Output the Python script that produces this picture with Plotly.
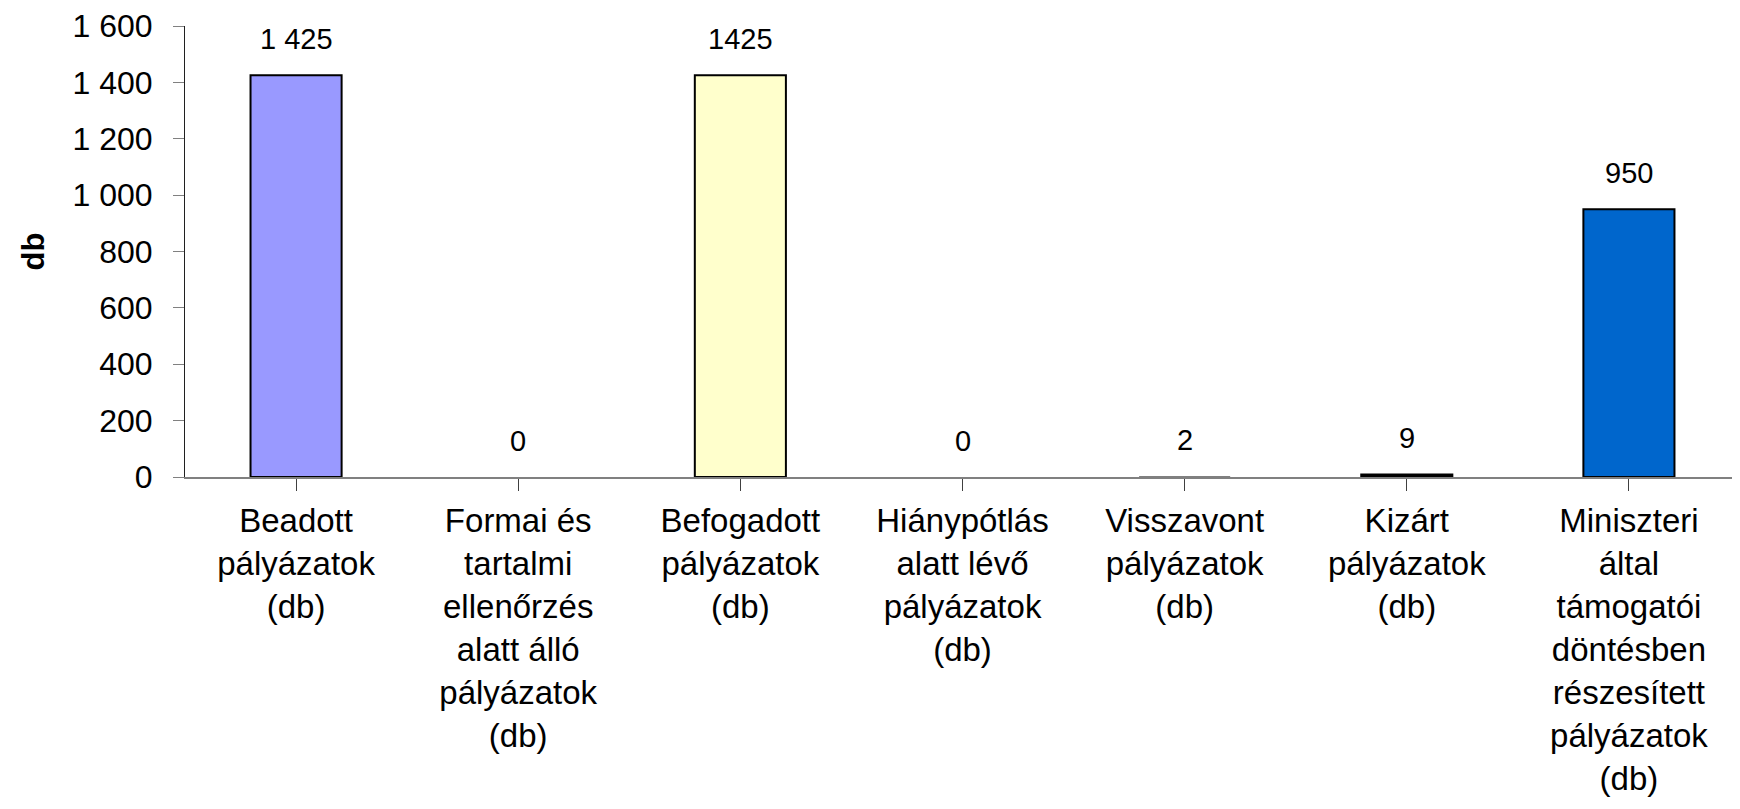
import plotly.graph_objects as go

categories = [
    "Beadott<br>pályázatok<br>(db)",
    "Formai és<br>tartalmi<br>ellenőrzés<br>alatt álló<br>pályázatok<br>(db)",
    "Befogadott<br>pályázatok<br>(db)",
    "Hiánypótlás<br>alatt lévő<br>pályázatok<br>(db)",
    "Visszavont<br>pályázatok<br>(db)",
    "Kizárt<br>pályázatok<br>(db)",
    "Miniszteri<br>által<br>támogatói<br>döntésben<br>részesített<br>pályázatok<br>(db)",
]
values = [1425, 0, 1425, 0, 2, 9, 950]
value_labels = ["1 425", "0", "1425", "0", "2", "9", "950"]
bar_colors = ["#9999FF", "#993366", "#FFFFCC", "#CCFFFF", "#808080", "#000000", "#0066CC"]
bar_outline_widths = [2, 0, 2, 0, 0, 2, 2]
y_tickvals = [0, 200, 400, 600, 800, 1000, 1200, 1400, 1600]

FONT = "Liberation Sans, Arial, sans-serif"
keys = list(range(len(categories)))

fig = go.Figure()
fig.add_trace(go.Bar(
    x=keys, y=values,
    marker=dict(color=bar_colors, line=dict(color="black", width=bar_outline_widths)),
    width=0.41,
    hoverinfo="skip",
))

for k, v, t in zip(keys, values, value_labels):
    fig.add_annotation(x=k, y=v, text=t, showarrow=False, yanchor="bottom",
                       yshift=18, font=dict(family=FONT, size=29, color="black"))

fig.update_layout(
    width=1740, height=809,
    margin=dict(l=177, r=8, t=18, b=340, autoexpand=False),
    plot_bgcolor="white", paper_bgcolor="white",
    showlegend=False,
    separators=". ",
    font=dict(family=FONT, color="black"),
)
fig.update_xaxes(
    tickmode="array", tickvals=keys, ticktext=categories,
    range=[-0.5, 6.5],
    automargin=False,
    showline=True, linecolor="#808080", linewidth=1.5,
    ticks="outside", ticklen=12, tickcolor="#404040", tickwidth=1,
    tickson="boundaries",
    showgrid=False, zeroline=False,
    tickfont=dict(family=FONT, size=33, color="black"),
    ticklabelstandoff=2,
)
fig.update_yaxes(
    range=[0, 1600], tickvals=y_tickvals, tickformat=",d",
    automargin=False,
    showline=True, linecolor="#202020", linewidth=1,
    ticks="outside", ticklen=11, tickcolor="#808080",
    showgrid=False, zeroline=False,
    tickfont=dict(family=FONT, size=32, color="black"),
    ticklabelstandoff=14,
    title=dict(text="<b>db</b>", font=dict(family=FONT, size=31, color="black"), standoff=18),
)

fig.write_html("out.html")
